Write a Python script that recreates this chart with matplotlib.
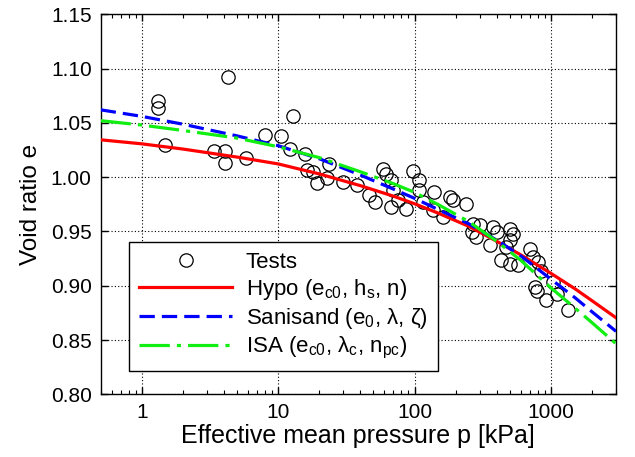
import numpy as np
import matplotlib
matplotlib.use("Agg")
import matplotlib.pyplot as plt

plt.rcParams['font.family'] = ['Liberation Sans', 'DejaVu Sans']
plt.rcParams['mathtext.fontset'] = 'custom'
plt.rcParams['mathtext.rm'] = 'Liberation Sans'
plt.rcParams['mathtext.it'] = 'Liberation Sans'
plt.rcParams['mathtext.default'] = 'regular'

# ---- data: tests ----
test_p = [1.31, 1.31, 1.49, 4.31, 3.38, 4.05, 4.05, 5.79, 7.98, 10.5,
          12.95, 12.2, 15.7, 16.4, 17.9, 19.2, 23.7, 22.8, 30.0, 37.7,
          46.6, 50.9, 58.4, 61.7, 67.1, 69.0, 67.1, 75.0, 86.5, 97.0,
          108.6, 108.6, 115, 136, 140, 162, 181, 190, 240, 267,
          262, 300, 282, 376, 400, 355, 500, 530, 500, 470,
          434, 500, 575, 700, 740, 805, 765, 785, 925, 1040,
          1100, 1330, 850]
test_e = [1.0705, 1.0638, 1.0298, 1.0919, 1.0239, 1.0239, 1.0129, 1.0172, 1.039, 1.038,
          1.0567, 1.0257, 1.0209, 1.0068, 1.0043, 0.9942, 1.0123, 0.9988, 0.9954, 0.9930,
          0.9832, 0.9770, 1.0077, 1.0030, 0.9970, 0.9880, 0.9724, 0.9786, 0.9710, 1.0060,
          0.9970, 0.9880, 0.9770, 0.9694, 0.9860, 0.9632, 0.9816, 0.9786, 0.9756, 0.9570,
          0.9495, 0.9556, 0.9449, 0.9540, 0.9495, 0.9372, 0.9526, 0.9480, 0.9418, 0.9357,
          0.9234, 0.9200, 0.9188, 0.9340, 0.9265, 0.9220, 0.8990, 0.8947, 0.8867, 0.9035,
          0.8928, 0.8775, 0.9140]

# ---- data: model curves ----
curve_p = [0.5, 1, 2, 5, 10, 20, 40, 70, 100, 150, 250, 400, 600, 1000, 1500, 2000, 3000]
hypo_e = [1.0344, 1.0307, 1.0259, 1.0185, 1.0122, 1.0030, 0.9922, 0.9825, 0.9755, 0.9667,
          0.9547, 0.9410, 0.9285, 0.9114, 0.8972, 0.8862, 0.8705]
sanisand_e = [1.0620, 1.0560, 1.0488, 1.0380, 1.0290, 1.0170, 1.0020, 0.9890, 0.9805, 0.9700,
              0.9570, 0.9420, 0.9276, 0.9060, 0.8890, 0.8760, 0.8580]
isa_e = [1.0520, 1.0480, 1.0430, 1.0360, 1.0280, 1.0180, 1.0050, 0.9940, 0.9860, 0.9746,
         0.9590, 0.9410, 0.9235, 0.8980, 0.8795, 0.8660, 0.8466]

xtick_vals = [1, 10, 100, 1000]
xtick_labels = ['1', '10', '100', '1000']
ytick_vals = [0.80, 0.85, 0.90, 0.95, 1.00, 1.05, 1.10, 1.15]
ytick_labels = ['0.80', '0.85', '0.90', '0.95', '1.00', '1.05', '1.10', '1.15']

fig = plt.figure(figsize=(6.35, 4.57), dpi=100)
ax = fig.add_axes([0.1586, 0.1372, 0.8115, 0.8315])

ax.plot(test_p, test_e, ls='none', marker='o', ms=9.6, mfc='none', mec='black',
        mew=0.9, label='Tests', zorder=2)
ax.plot(curve_p, hypo_e, color='#ff0000', lw=2.3, label='Hypo (e$_{c0}$, h$_s$, n)', zorder=3)
ax.plot(curve_p, sanisand_e, color='#0000ff', lw=2.3, ls=(0, (4.8, 2.2)),
        label='Sanisand (e$_0$, λ, ζ)', zorder=3)
ax.plot(curve_p, isa_e, color='#11ee11', lw=2.3, ls=(0, (9.5, 2.2, 1.3, 2.2)),
        label='ISA (e$_{c0}$, λ$_c$, n$_{pc}$)', zorder=3)

ax.set_xscale('log')
ax.set_xlim(0.5, 3000)
ax.set_ylim(0.80, 1.15)
ax.set_xticks(xtick_vals)
ax.set_xticklabels(xtick_labels)
ax.set_yticks(ytick_vals)
ax.set_yticklabels(ytick_labels)
ax.xaxis.set_minor_locator(matplotlib.ticker.LogLocator(base=10, subs=np.arange(2, 10)))
ax.xaxis.set_minor_formatter(matplotlib.ticker.NullFormatter())

ax.tick_params(which='both', direction='in', top=True, right=True, labelsize=15)
ax.tick_params(which='major', length=5, width=1)
ax.tick_params(which='minor', length=3, width=0.8)
ax.tick_params(axis='y', pad=6.5)
ax.tick_params(axis='x', pad=6)

ax.grid(True, which='major', color='black', ls=(0, (1, 2)), lw=0.8)
for s in ax.spines.values():
    s.set_linewidth(1.0)

ax.set_xlabel('Effective mean pressure p [kPa]', fontsize=18, labelpad=2)
ax.set_ylabel('Void ratio e', fontsize=17.5, labelpad=6)

leg = ax.legend(loc='lower left', bbox_to_anchor=(0.055, 0.061), borderaxespad=0,
                fontsize=16, frameon=True, fancybox=False, framealpha=1,
                edgecolor='black', handlelength=4.2, handletextpad=0.6,
                labelspacing=0.18, borderpad=0.45)
leg.get_frame().set_linewidth(1.0)

fig.savefig('out.png', dpi=100)
